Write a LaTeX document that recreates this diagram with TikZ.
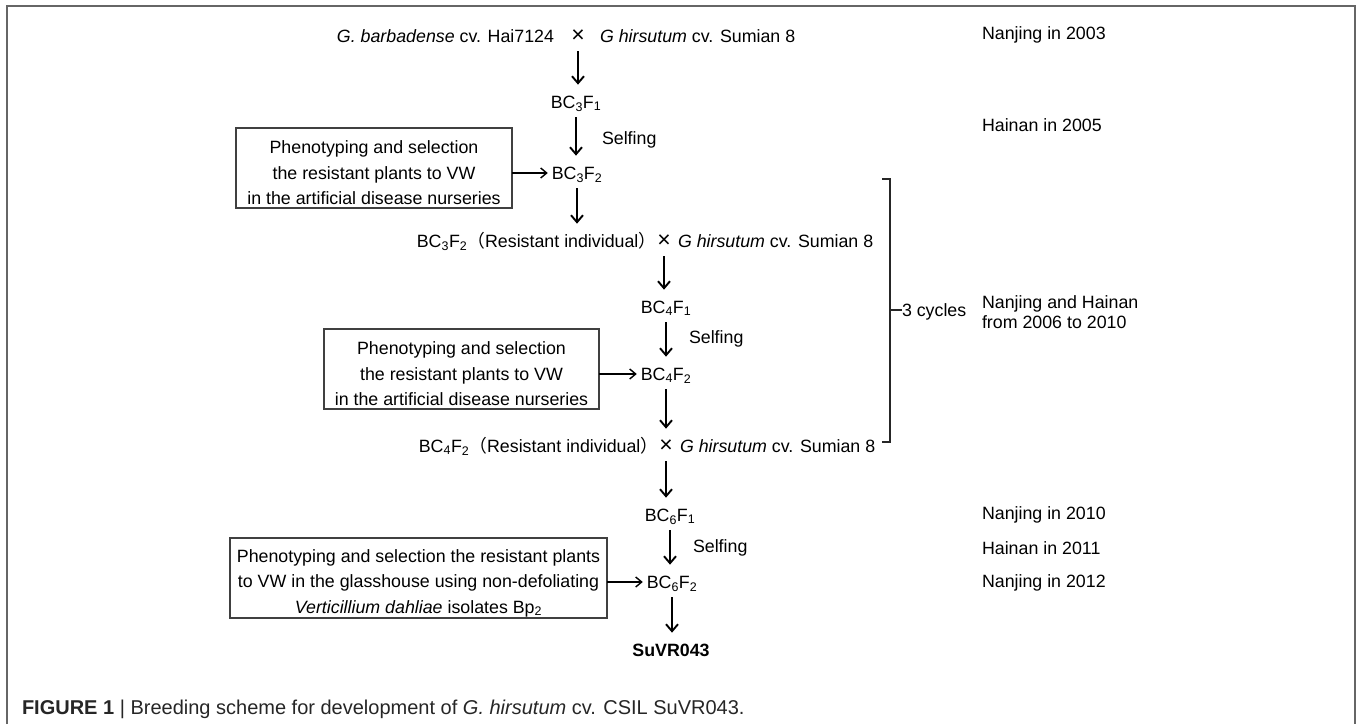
\documentclass[tikz,border=0pt]{standalone}
\usepackage{fontspec}
\setmainfont{Liberation Sans}
\newfontfamily\cjk{Noto Sans CJK SC}
\usetikzlibrary{arrows.meta}
\newcommand{\lp}{{\cjk （}}
\newcommand{\rp}{{\cjk ）}}
\newcommand{\crs}{{\fontsize{23}{23}\selectfont ×}}
\begin{document}
\begin{tikzpicture}[x=1pt,y=-1pt,
  every node/.style={inner sep=0pt, outer sep=0pt, font=\fontsize{17.8}{25.5}\selectfont},
  lbl/.style={text height=12.7pt, text depth=0pt},
  rlbl/.style={anchor=west, align=left, font=\fontsize{17.8}{20}\selectfont},
  box/.style={draw=black!75, line width=1.6pt, align=center, minimum height=80pt},
  varr/.style={line width=1.9pt, -{Straight Barb[length=7pt,width=12pt]}, shorten <=9pt, shorten >=11pt},
  harr/.style={line width=1.4pt, -{Straight Barb[length=6pt,width=10pt]}, shorten >=4pt},
  brk/.style={line width=1.3pt, black!85},
  frame/.style={line width=2pt, black!60}
]
\useasboundingbox (0,0) rectangle (1357,724);
% outer frame
\draw[frame] (7,724) -- (7,6) -- (1355,6) -- (1355,724);

% row 1
\node[lbl] (x1) at (578,36) {\crs};
\node[lbl, anchor=east] (r1l) at (554,36) {\textit{G. barbadense} cv. Hai7124};
\node[lbl, anchor=west] (r1r) at (600,36) {\textit{G hirsutum} cv. Sumian 8};

\node[lbl] (bc3f1) at (576,102) {BC\textsubscript{3}F\textsubscript{1}};
\node[lbl, anchor=west] (self1) at (602,138) {Selfing};
\node[lbl] (bc3f2) at (577,173) {BC\textsubscript{3}F\textsubscript{2}};
\node[box, minimum width=276pt] (b1) at (374,168)
  {\rule{0pt}{22.7pt}Phenotyping and selection\\the resistant plants to VW\\in the artificial disease nurseries};

% row 2
\node[lbl] (x2) at (664,241) {\crs};
\node[lbl, anchor=east] (r2l) at ([xshift=-1pt]x2.west) {BC\textsubscript{3}F\textsubscript{2}\lp Resistant individual\rp};
\node[lbl, anchor=west] (r2r) at (678,241) {\textit{G hirsutum} cv. Sumian 8};

\node[lbl] (bc4f1) at (666,307) {BC\textsubscript{4}F\textsubscript{1}};
\node[lbl, anchor=west] (self2) at (689,337) {Selfing};
\node[lbl] (bc4f2) at (666,374) {BC\textsubscript{4}F\textsubscript{2}};
\node[box, minimum width=275pt] (b2) at (461.5,369)
  {\rule{0pt}{22.7pt}Phenotyping and selection\\the resistant plants to VW\\in the artificial disease nurseries};

% row 3
\node[lbl] (x3) at (666,446) {\crs};
\node[lbl, anchor=east] (r3l) at ([xshift=-1pt]x3.west) {BC\textsubscript{4}F\textsubscript{2}\lp Resistant individual\rp};
\node[lbl, anchor=west] (r3r) at (680,446) {\textit{G hirsutum} cv. Sumian 8};

\node[lbl] (bc6f1) at (670,515) {BC\textsubscript{6}F\textsubscript{1}};
\node[lbl, anchor=west] (self3) at (693,546) {Selfing};
\node[lbl] (bc6f2) at (672,582) {BC\textsubscript{6}F\textsubscript{2}};
\node[box, minimum width=377pt] (b3) at (418.5,578)
  {\rule{0pt}{22.7pt}Phenotyping and selection the resistant plants\\to VW in the glasshouse using non-defoliating\\\textit{Verticillium dahliae} isolates Bp\textsubscript{2}};
\node[lbl, font=\fontsize{17.8}{25.5}\selectfont\bfseries] (suvr) at (671,650) {SuVR043};

% arrows
\draw[varr] (x1.south) -- (x1.south |- bc3f1.north);
\draw[varr] (bc3f1.south) -- (bc3f1.south |- bc3f2.north);
\draw[varr] (bc3f2.south) -- (bc3f2.south |- r2l.north);
\draw[varr] (x2.south) -- (x2.south |- bc4f1.north);
\draw[varr] (bc4f1.south) -- (bc4f1.south |- bc4f2.north);
\draw[varr] (bc4f2.south) -- (bc4f2.south |- r3l.north);
\draw[varr] (x3.south) -- (x3.south |- bc6f1.north);
\draw[varr] (bc6f1.south) -- (bc6f1.south |- bc6f2.north);
\draw[varr] (bc6f2.south) -- (bc6f2.south |- suvr.north);
\draw[harr] (b1.east |- bc3f2) -- (bc3f2.west);
\draw[harr] (b2.east |- bc4f2) -- (bc4f2.west);
\draw[harr] (b3.east |- bc6f2) -- (bc6f2.west);

% bracket
\coordinate (bt) at (882,179);
\coordinate (bb) at (882,442);
\node[lbl, anchor=west] (cyc) at (902,310) {3 cycles};
\draw[brk] (bt) -- (890,179) -- (890,442) -- (bb);
\draw[brk] (890,310) -- (cyc.west);

% right column
\node[rlbl] (t1) at (982,35) {Nanjing in 2003};
\node[rlbl] (t2) at (982,125) {Hainan in 2005};
\node[rlbl] (t3) at (982,312) {Nanjing and Hainan\\from 2006 to 2010};
\node[rlbl] (t4) at (982,515) {Nanjing in 2010};
\node[rlbl] (t5) at (982,548) {Hainan in 2011};
\node[rlbl] (t6) at (982,583) {Nanjing in 2012};

% caption
\node[anchor=west, text=black!85, font=\fontsize{20}{24}\selectfont, text height=14pt, text depth=0pt] (cap) at (22,707)
  {\textbf{FIGURE 1} | Breeding scheme for development of \textit{G. hirsutum} cv. CSIL SuVR043.};
\end{tikzpicture}
\end{document}
